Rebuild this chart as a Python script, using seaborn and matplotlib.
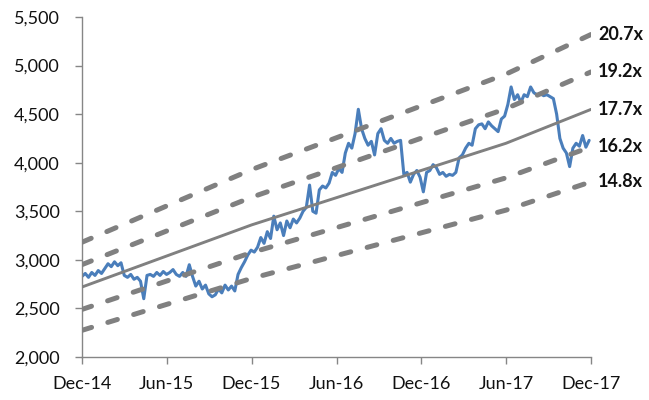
import numpy as np
import pandas as pd
import matplotlib
matplotlib.use("Agg")
import matplotlib.pyplot as plt
import matplotlib.dates as mdates
from matplotlib.ticker import FuncFormatter, MultipleLocator
import seaborn as sns

# ---------------- data ----------------
price_start = "2014-12-01"          # weekly observations
price = [
    2830, 2860, 2820, 2870, 2840, 2890, 2860, 2910, 2960, 2930,
    2980, 2940, 2970, 2840, 2820, 2850, 2800, 2820, 2780, 2600,
    2840, 2850, 2830, 2870, 2840, 2880, 2850, 2870, 2900, 2850,
    2830, 2870, 2830, 2950, 2830, 2730, 2780, 2700, 2740, 2650,
    2620, 2640, 2700, 2660, 2740, 2690, 2730, 2680, 2850, 2920,
    2980, 3050, 3100, 3080, 3130, 3230, 3170, 3290, 3220, 3450,
    3310, 3380, 3250, 3400, 3330, 3420, 3380, 3430, 3500, 3540,
    3770, 3500, 3480, 3720, 3760, 3740, 3790, 3900, 3870, 3940,
    3900, 4100, 4200, 4150, 4300, 4550, 4350, 4250, 4180, 4220,
    4080, 4300, 4350, 4230, 4200, 4250, 4200, 4220, 4230, 3880,
    3900, 3800, 3880, 3920, 3850, 3700, 3900, 3920, 3980, 3950,
    3880, 3900, 3860, 3880, 3870, 3900, 4050, 4080, 4150, 4200,
    4180, 4350, 4390, 4400, 4350, 4420, 4380, 4350, 4320, 4450,
    4480, 4600, 4780, 4650, 4700, 4620, 4700, 4680, 4780, 4720,
    4700, 4710, 4690, 4700, 4680, 4660, 4500, 4250, 4150, 4100,
    3960, 4150, 4200, 4170, 4280, 4160, 4230,
]
eps_dates = ["2014-12-01", "2015-12-01", "2017-06-01", "2017-12-01"]
eps = [153.7, 189.8, 237.3, 257.0]
multiples = [20.7, 19.2, 17.7, 16.2, 14.8]
band_labels = ["20.7x", "19.2x", "17.7x", "16.2x", "14.8x"]
mean_multiple = 17.7
tick_dates = ["2014-12-01", "2015-06-01", "2015-12-01", "2016-06-01",
              "2016-12-01", "2017-06-01", "2017-12-01"]

# ---------------- frames ----------------
price_df = pd.DataFrame({
    "date": pd.date_range(price_start, periods=len(price), freq="7D"),
    "value": price,
})
band_rows = []
for m, lab in zip(multiples, band_labels):
    for d, e in zip(eps_dates, eps):
        band_rows.append({"date": pd.Timestamp(d), "value": m * e, "band": lab, "mult": m})
band_df = pd.DataFrame(band_rows)

# ---------------- style ----------------
sns.set_theme(style="white")
plt.rcParams["font.family"] = ["Lato", "DejaVu Sans"]

fig = plt.figure(figsize=(6.49, 4.00), dpi=100)
ax = fig.add_axes([82 / 649, 1 - 357 / 400, (591 - 82) / 649, (357 - 17) / 400])

blue = "#4a7ebb"
gray = "#808080"

sns.lineplot(data=price_df, x="date", y="value", ax=ax, color=blue,
             linewidth=2.2, zorder=2)

for m, lab in zip(multiples, band_labels):
    sub = band_df[band_df["band"] == lab]
    if m == mean_multiple:
        sns.lineplot(data=sub, x="date", y="value", ax=ax, color=gray,
                     linewidth=2.1, zorder=3)
    else:
        line = sns.lineplot(data=sub, x="date", y="value", ax=ax, color=gray,
                            linewidth=3.6, zorder=3).lines[-1]
        line.set_dashes((2.0, 3.4))
        line.set_dash_capstyle("round")
    last = sub.iloc[-1]
    ax.annotate(lab, xy=(last["date"], last["value"]), xytext=(5, 0),
                textcoords="offset points", va="center", ha="left",
                fontsize=13, fontweight="bold", color="#111111",
                annotation_clip=False)

ax.set_xlim(pd.Timestamp(tick_dates[0]), pd.Timestamp(tick_dates[-1]))
ax.set_ylim(2000, 5500)
ax.yaxis.set_major_locator(MultipleLocator(500))
ax.yaxis.set_major_formatter(FuncFormatter(lambda v, p: f"{int(v):,}"))
ax.set_xticks([pd.Timestamp(d) for d in tick_dates])
ax.xaxis.set_major_formatter(mdates.DateFormatter("%b-%y"))
ax.set_xlabel("")
ax.set_ylabel("")

for s in ["top", "right"]:
    ax.spines[s].set_visible(False)
for s in ["left", "bottom"]:
    ax.spines[s].set_color("#868686")
    ax.spines[s].set_linewidth(1.0)
ax.tick_params(axis="both", direction="out", length=5, width=1.0,
               color="#868686", labelsize=13, labelcolor="#111111")
ax.tick_params(axis="y", pad=11, left=True)
ax.tick_params(axis="x", pad=9, bottom=True)
ax.grid(False)

fig.savefig("out.png", dpi=100, facecolor="white")
